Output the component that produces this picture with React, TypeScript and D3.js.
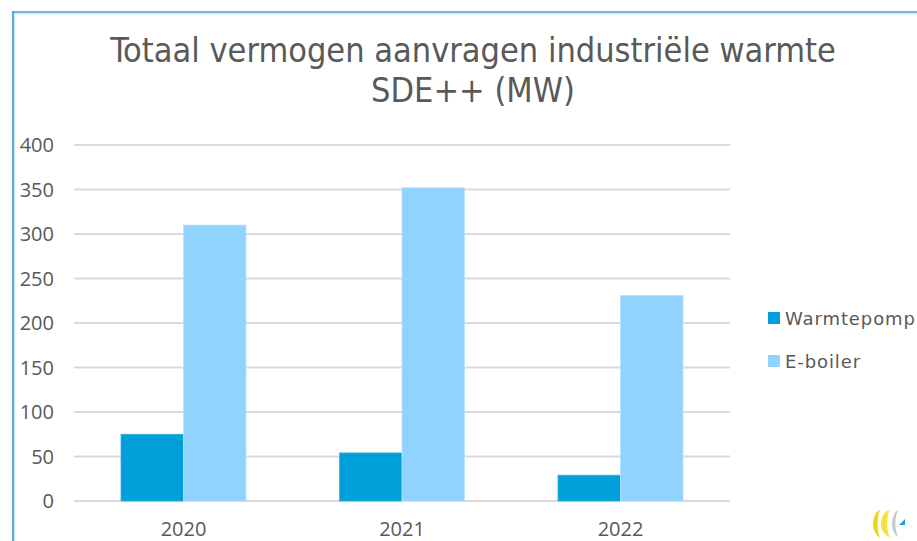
import React from "react";
import * as d3 from "d3";

const categories = ["2020", "2021", "2022"];
const seriesNames = ["Warmtepomp", "E-boiler"];
const warmtepomp = [75, 54, 29];
const eboiler = [310, 352, 231];
const yTicks = [0, 50, 100, 150, 200, 250, 300, 350, 400];
const titleLines = ["Totaal vermogen aanvragen industriële warmte", "SDE++ (MW)"];

const colors = ["#009fda", "#8fd3fe"];
const textColor = "#595959";

export default function App() {
  const W = 917, H = 541;
  const x0 = d3.scaleBand<string>().domain(categories).range([74.25, 729.75]).padding(0);
  const bw = x0.bandwidth();
  const gap = bw * 0.214;
  const x1 = d3.scaleBand<string>().domain(seriesNames).range([gap, bw - gap]).padding(0);
  const y = d3.scaleLinear().domain([0, 400]).range([501, 145]);
  const values = [warmtepomp, eboiler];

  return (
    <svg width={W} height={H} style={{ position: "absolute", left: 0, top: 0, background: "#fff" }}>
      <rect x={0} y={0} width={W} height={H} fill="#fff" />
      {/* frame */}
      <line x1={13} x2={W} y1={13.5} y2={13.5} stroke="#e6e6e6" strokeWidth={2} />
      <line x1={12} x2={W} y1={12} y2={12} stroke="#3aa3dc" strokeWidth={1.6} />
      <line x1={14.5} x2={14.5} y1={13} y2={H} stroke="#cfe9f8" strokeWidth={1.2} />
      <line x1={13} x2={13} y1={11.5} y2={H} stroke="#2e9ad8" strokeWidth={1.6} />

      {/* title */}
      <g fill={textColor} fontFamily="'DejaVu Sans Condensed', 'DejaVu Sans', sans-serif" fontStretch="condensed" fontSize={34} textAnchor="middle">
        <text x={473} y={62}>{titleLines[0]}</text>
        <text x={473} y={102}>{titleLines[1]}</text>
      </g>

      {/* gridlines */}
      {yTicks.map((t) => (
        <line key={t} x1={74} x2={730} y1={y(t)} y2={y(t)} stroke="#d9d9d9" strokeWidth={2} />
      ))}
      {/* y labels */}
      <g fill={textColor} fontFamily="'Open Sans', sans-serif" fontSize={20} textAnchor="end">
        {yTicks.map((t) => (
          <text key={t} x={54} y={y(t)} dy="0.36em">{t}</text>
        ))}
      </g>

      {/* bars */}
      {categories.map((c, ci) => (
        <g key={c} transform={`translate(${x0(c)},0)`}>
          {seriesNames.map((s, si) => (
            <rect
              key={s}
              x={x1(s)}
              y={y(values[si][ci])}
              width={x1.bandwidth()}
              height={y(0) - y(values[si][ci])}
              fill={colors[si]}
              stroke={si === 1 ? "#b5e2ff" : "#33b2e3"}
              strokeWidth={0.8}
            />
          ))}
        </g>
      ))}

      {/* x labels */}
      <g fill={textColor} fontFamily="'Open Sans', sans-serif" fontSize={20} textAnchor="middle">
        {categories.map((c) => (
          <text key={c} x={(x0(c) as number) + bw / 2} y={536}>{c}</text>
        ))}
      </g>

      {/* legend */}
      <g fontFamily="'DejaVu Sans', sans-serif" fontSize={18} fill={textColor}>
        {seriesNames.map((s, i) => (
          <g key={s} transform={`translate(768, ${312 + i * 43})`}>
            <rect x={0} y={0} width={12} height={12} fill={colors[i]} />
            <text x={17} y={12.5} letterSpacing={0.9}>{s}</text>
          </g>
        ))}
      </g>

      {/* logo */}
      <g transform="translate(870,509)">
        <path d="M11,1 A8 13.5 0 0 0 11,28 A3 12 0 0 1 11,1 Z" fill="#efd51a" />
        <path d="M21,1 A10 13.5 0 0 0 21,28 A3.5 12 0 0 1 21,1 Z" fill="#f6e23e" />
        <path d="M29,1 A8 13.5 0 0 0 31,28 A4 12 0 0 1 29,1 Z" fill="#c9c9c9" />
        <path d="M29,16 L35,10 L35,16 Z" fill="#1ea0e0" />
      </g>
    </svg>
  );
}
